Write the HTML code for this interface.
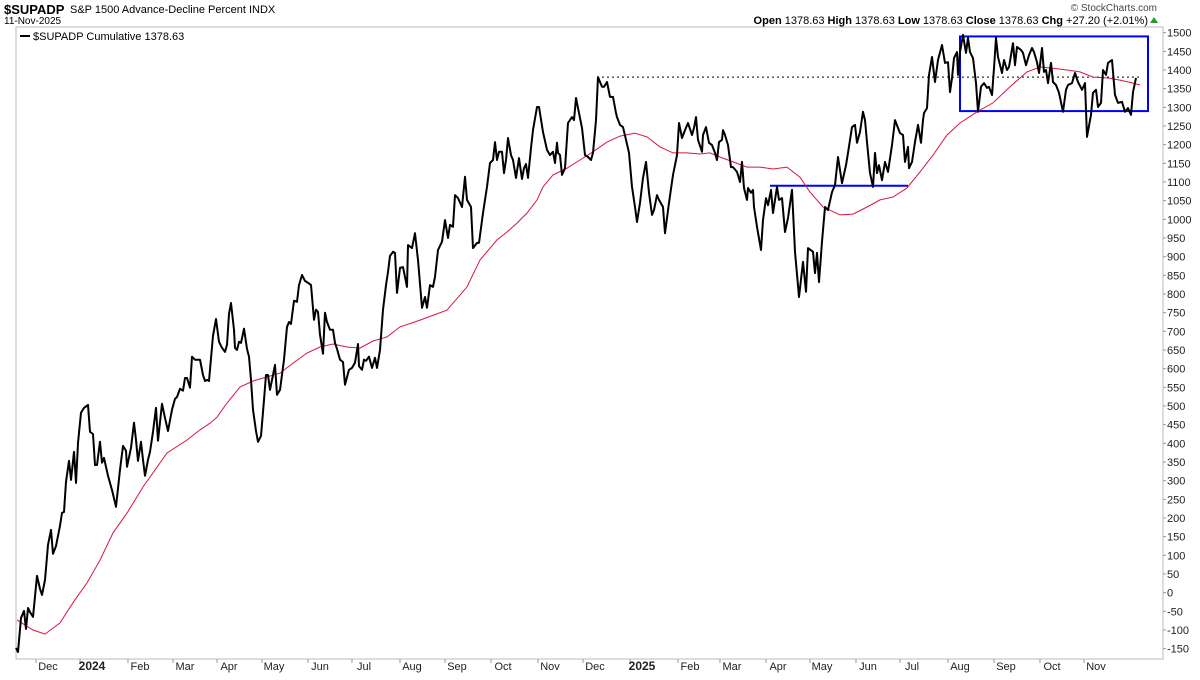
<!DOCTYPE html>
<html><head><meta charset="utf-8"><style>
body{margin:0;background:#fff;font-family:"Liberation Sans",sans-serif;}
svg text{font-family:"Liberation Sans",sans-serif;}
</style></head><body>
<svg id="chart" width="1200" height="675" xmlns="http://www.w3.org/2000/svg">
<text x="4" y="14" font-size="13" font-weight="bold">$SUPADP</text>
<text x="70" y="13" font-size="11">S&amp;P 1500 Advance-Decline Percent INDX</text>
<text x="4" y="24" font-size="10">11-Nov-2025</text>
<text x="1157" y="11" font-size="10" text-anchor="end" fill="#444">© StockCharts.com</text>
<text x="1148" y="24" font-size="11" text-anchor="end"><tspan font-weight="bold">Open</tspan> 1378.63 <tspan font-weight="bold">High</tspan> 1378.63 <tspan font-weight="bold">Low</tspan> 1378.63 <tspan font-weight="bold">Close</tspan> 1378.63 <tspan font-weight="bold">Chg</tspan> +27.20 (+2.01%)</text>
<polygon points="1150,23 1158,23 1154,17" fill="#2a9a2a"/>
<rect x="16" y="27" width="1147" height="632" fill="none" stroke="#bbb"/>
<line x1="20" y1="36" x2="30" y2="36" stroke="#000" stroke-width="2"/>
<text x="33" y="40" font-size="11">$SUPADP Cumulative 1378.63</text>
<g id="yaxis"></g><g id="xaxis"></g><g id="annot"></g><g id="series"></g>
</svg>
<script>
const yTicks=[-150,-100,-50,0,50,100,150,200,250,300,350,400,450,500,550,600,650,700,750,800,850,900,950,1000,1050,1100,1150,1200,1250,1300,1350,1400,1450,1500];
const monthLabels=["Dec","2024","Feb","Mar","Apr","May","Jun","Jul","Aug","Sep","Oct","Nov","Dec","2025","Feb","Mar","Apr","May","Jun","Jul","Aug","Sep","Oct","Nov"];
const monthPos=[48,92,140,185,229,274,320,364,412,457,503,550,595,642,690,732,778,822,868,912,960,1006,1052,1096];
const sessionPos=[16,18,21,24,26,28,30,33,37,40,42,45,48,51,53,56,60,62,64,66,69,71,74,76,78,81,84,88,90,93,95,97,100,102,104,108,112,116,120,123,126,127,131,134,136,138,141,143,145,148,150,153,156,158,162,165,168,172,175,177,180,183,185,187,190,192,195,200,203,205,207,209,213,216,219,222,225,227,229,231,234,235,237,239,241,244,247,249,251,253,256,258,261,264,266,268,270,273,275,277,280,284,287,289,291,294,297,299,302,305,308,311,314,316,318,320,323,325,327,330,333,335,337,340,343,345,349,352,355,358,359,362,364,366,369,372,375,377,380,383,386,388,390,393,395,
397,400,403,407,408,412,415,418,422,425,427,430,433,435,438,442,445,448,450,453,455,458,462,465,467,471,473,477,479,483,487,490,493,495,497,499,502,504,506,508,511,513,516,519,522,524,526,528,531,533,537,539,543,547,550,553,555,557,558,560,562,565,568,572,574,576,579,582,585,588,591,593,596,598,602,604,607,610,613,616,617,620,623,626,629,632,635,637,640,643,646,649,652,654,657,659,663,665,669,673,677,679,682,685,688,692,694,696,698,702,703,706,709,712,715,717,719,722,723,725,728,731,733,737,740,742,744,747,748,751,753,754,757,761,763,766,768,771,773,777,779,
782,785,788,792,795,799,803,806,808,813,815,817,819,822,825,828,832,835,838,842,846,848,852,855,857,860,863,865,867,870,873,875,877,879,882,885,888,892,895,900,903,905,908,909,912,915,918,921,923,924,927,929,932,935,938,942,945,948,950,952,954,957,958,960,963,966,968,970,973,976,978,981,984,987,989,992,994,996,998,1002,1004,1007,1009,1013,1015,1017,1021,1023,1026,1029,1032,1034,1037,1039,1042,1044,1046,1048,1051,1053,1056,1059,1063,1066,1068,1072,1075,1078,1082,1085,1087,1091,1093,1096,1098,1101,1103,1106,1108,1112,1115,1118,1122,1125,1128,1131,1133,1136,1140];
const adValues=[-148,-159,-68,-49,-97,-41,-52,-65,45,10,-6,34,128,168,104,125,179,214,216,297,353,302,377,294,401,482,495,503,431,425,342,342,404,348,361,313,275,230,329,393,380,337,388,455,409,353,404,356,313,356,377,431,495,407,506,468,433,490,519,524,546,541,575,575,549,632,624,624,583,567,570,567,688,733,672,656,645,664,747,776,704,656,650,672,669,707,653,632,570,490,433,404,420,516,583,583,543,583,610,530,543,624,712,725,720,782,779,824,851,835,830,824,731,758,752,691,640,750,725,704,704,669,653,624,618,557,597,602,616,666,607,597,624,621,632,602,629,602,650,758,824,859,902,913,
910,803,870,872,819,931,923,963,891,763,792,763,824,819,846,918,940,998,950,985,980,1065,1057,1033,1114,1052,1033,923,937,937,1017,1087,1151,1159,1207,1159,1181,1181,1124,1159,1218,1172,1159,1111,1164,1108,1137,1148,1111,1191,1239,1301,1301,1234,1186,1172,1181,1151,1205,1178,1172,1119,1137,1258,1274,1266,1325,1285,1245,1172,1167,1159,1178,1266,1381,1355,1355,1368,1328,1328,1285,1274,1253,1247,1213,1178,1087,1033,993,1044,1111,1154,1071,1012,1025,1065,1052,1033,963,1044,1119,1172,1258,1218,1239,1258,1226,1245,1274,1213,1181,1226,1247,1205,1199,1178,1159,1207,1213,1239,1226,1199,1140,1140,1127,1100,1154,1084,1052,1084,1071,1079,1033,980,918,998,1057,1038,1079,1017,1087,
1052,1057,966,1004,1079,913,792,886,806,923,913,856,910,832,940,1033,1025,1073,1092,1167,1097,1145,1178,1247,1253,1205,1234,1288,1266,1207,1124,1087,1178,1124,1145,1105,1154,1127,1199,1266,1231,1226,1154,1194,1137,1154,1207,1253,1205,1266,1285,1298,1387,1435,1368,1427,1467,1419,1421,1341,1379,1432,1448,1387,1448,1494,1446,1486,1448,1432,1365,1288,1355,1365,1352,1355,1333,1405,1486,1435,1392,1427,1400,1408,1472,1413,1462,1454,1446,1413,1440,1459,1448,1421,1392,1459,1395,1400,1365,1419,1368,1360,1339,1288,1347,1360,1365,1392,1368,1347,1365,1221,1280,1339,1347,1301,1312,1400,1387,1419,1427,1333,1312,1315,1288,1298,1280,1341,1378.63];
const maPos=[17,33,45,60,73,87,100,113,127,143,167,187,200,210,217,227,240,253,267,280,293,307,320,333,347,360,373,387,400,420,447,467,480,497,507,517,527,537,543,553,567,580,593,607,620,635,647,660,673,687,700,710,720,733,747,760,773,787,800,810,823,840,853,867,880,893,907,920,933,947,960,977,993,1010,1027,1040,1053,1067,1080,1093,1107,1120,1133,1140];
const maValues=[-73,-100,-111,-81,-27,26,87,160,213,283,374,409,436,454,470,508,551,567,578,588,615,642,658,666,658,655,674,685,712,730,757,819,891,945,966,990,1017,1052,1087,1119,1137,1159,1181,1207,1223,1231,1221,1194,1178,1178,1175,1178,1167,1154,1140,1140,1135,1140,1113,1073,1033,1012,1014,1033,1052,1060,1084,1127,1172,1226,1258,1288,1312,1355,1395,1408,1405,1400,1395,1381,1379,1373,1365,1360];
const priorHigh=1381, supportLevel=1090, rangeTop=1490, rangeBottom=1290;

const NS="http://www.w3.org/2000/svg";
const X0=16,X1=1163,Y_TOP=32.7,PXU=0.3733;
function xs(t){return X0+(t-16)*(X1-X0)/(1163-16);}
function ys(v){return Y_TOP+(1500-v)*PXU;}
function mk(tag,attrs,parent){const e=document.createElementNS(NS,tag);for(const k in attrs)e.setAttribute(k,attrs[k]);parent.appendChild(e);return e;}
const ya=document.getElementById('yaxis');
yTicks.forEach(v=>{
  const t=mk('line',{x1:X1,x2:X1+3,y1:ys(v),y2:ys(v),stroke:'#999'},ya);
  
  
  const l=mk('text',{x:X1+4,y:ys(v)+4,'font-size':11,fill:'#222'},ya);
  l.textContent=v;
  
  
});
const xa=document.getElementById('xaxis');
monthLabels.forEach((m,i)=>{
  const t=mk('line',{x1:xs(monthPos[i])-12,x2:xs(monthPos[i])-12,y1:659,y2:663,stroke:'#999'},xa);
  
  
  const bold=/^\d{4}$/.test(m);
  const l=mk('text',{x:xs(monthPos[i]),y:670,'font-size':bold?12:11,'font-weight':bold?'bold':'normal','text-anchor':'middle',fill:'#222'},xa);
  l.textContent=m;
  
  
});
const an=document.getElementById('annot');
const dl=mk('line',{x1:xs(602),x2:xs(1140),y1:ys(priorHigh),y2:ys(priorHigh),stroke:'#000','stroke-dasharray':'2,3'},an);


const sl=mk('line',{x1:xs(770),x2:xs(908),y1:ys(supportLevel),y2:ys(supportLevel),stroke:'#0000ff','stroke-width':2},an);


const rb=mk('rect',{x:xs(960),y:ys(rangeTop),width:xs(1148)-xs(960),height:ys(rangeBottom)-ys(rangeTop),fill:'none',stroke:'#0000ff','stroke-width':2},an);


const se=document.getElementById('series');
const ma=mk('polyline',{points:maPos.map((t,i)=>xs(t).toFixed(1)+','+ys(maValues[i]).toFixed(1)).join(' '),fill:'none',stroke:'#dc143c','stroke-width':1},se);


const ad=mk('polyline',{points:sessionPos.map((t,i)=>xs(t).toFixed(1)+','+ys(adValues[i]).toFixed(1)).join(' '),fill:'none',stroke:'#000','stroke-width':2,'stroke-linejoin':'round'},se);


</script>
</body></html>
